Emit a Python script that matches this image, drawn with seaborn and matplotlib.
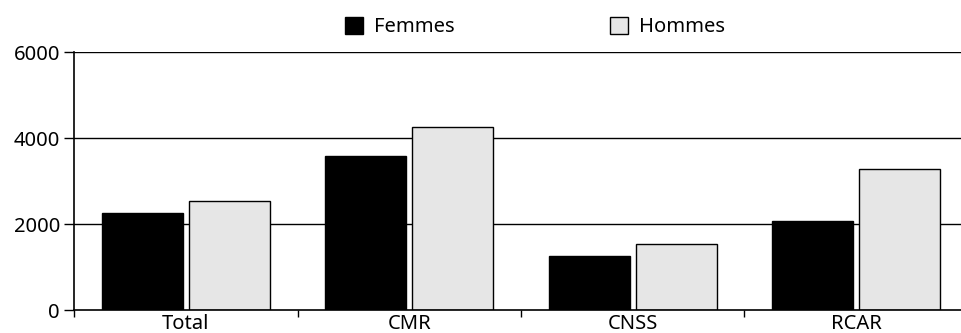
import matplotlib
matplotlib.use("Agg")
import matplotlib.pyplot as plt
import seaborn as sns
import pandas as pd
from matplotlib.patches import Patch

categories = ["Total", "CMR", "CNSS", "RCAR"]
femmes = [2250, 3570, 1250, 2080]
hommes = [2540, 4260, 1535, 3290]
series_names = ["Femmes", "Hommes"]
yticks = [0, 2000, 4000, 6000]

df = pd.DataFrame({
    "cat": categories * 2,
    "val": femmes + hommes,
    "sexe": [series_names[0]] * len(categories) + [series_names[1]] * len(categories),
})

sns.set_theme(style="white")
plt.rcParams["font.family"] = ["Noto Sans", "DejaVu Sans"]
plt.rcParams["font.stretch"] = "normal"
plt.rcParams["text.color"] = "black"
plt.rcParams["xtick.color"] = "black"
plt.rcParams["ytick.color"] = "black"
plt.rcParams["xtick.labelcolor"] = "black"
plt.rcParams["ytick.labelcolor"] = "black"

fig = plt.figure(figsize=(9.62, 3.33), dpi=100)
ax = fig.add_axes([74 / 962, 1 - 310 / 333, 894 / 962, (310 - 52) / 333])

colors = {"Femmes": "#000000", "Hommes": "#e6e6e6"}
sns.barplot(data=df, x="cat", y="val", hue="sexe", palette=colors,
            width=0.78, gap=0.072, edgecolor="black", linewidth=1.0,
            ax=ax, legend=False, saturation=1)

ax.set_xlim(-0.5, 3.5)
ax.set_ylim(0, 6000)
ax.set_yticks(yticks)
ax.set_yticklabels([str(t) for t in yticks], fontsize=14.5, color="black")
for y in yticks[1:]:
    ax.axhline(y, color="black", linewidth=1.0, zorder=0)

ax.set_xticks(range(len(categories)))
ax.set_xticklabels(categories, fontsize=14.5, color="black")
ax.set_xticks([-0.5, 0.5, 1.5, 2.5], minor=True)
ax.tick_params(axis="x", which="major", length=0, pad=3)
ax.tick_params(axis="x", which="minor", length=5, width=1, color="black", direction="out", bottom=True)
ax.tick_params(axis="y", length=7, width=1, color="black", direction="out", left=True, pad=3)
ax.set_xlabel("")
ax.set_ylabel("")

for side in ["top", "right"]:
    ax.spines[side].set_visible(False)
for side in ["left", "bottom"]:
    ax.spines[side].set_color("black")
    ax.spines[side].set_linewidth(1.2)

handles = [Patch(facecolor=colors[n], edgecolor="black", linewidth=1.0, label=n) for n in series_names]
fig.legend(handles=handles, loc="center", bbox_to_anchor=(0.556, 0.919), ncol=2,
           frameon=False, fontsize=14.5, handlelength=0.9, handleheight=0.9,
           handletextpad=0.54, columnspacing=7.7, labelcolor="black")

fig.savefig("out.png", dpi=100)
